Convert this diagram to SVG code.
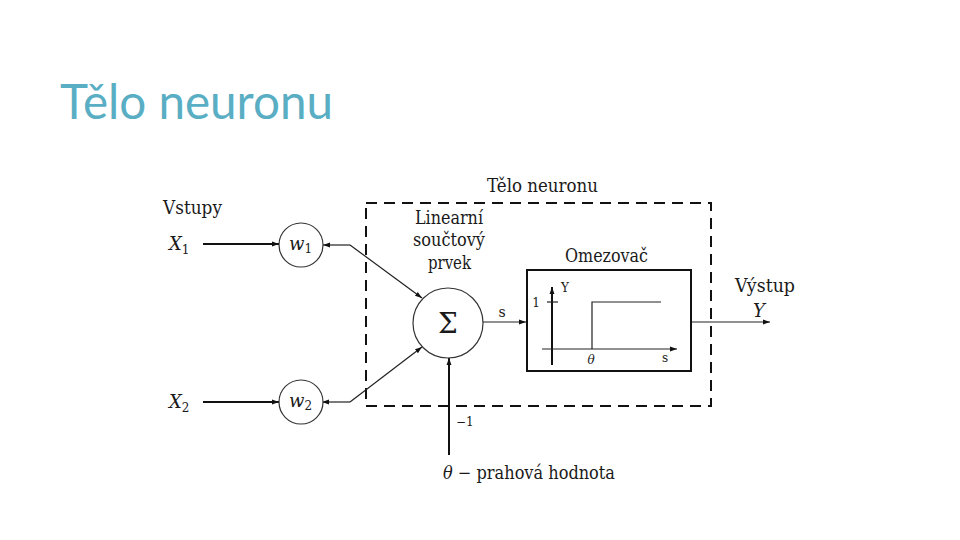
<svg xmlns="http://www.w3.org/2000/svg" width="960" height="540" viewBox="0 0 960 540">
<defs>
<style>
.t{font-family:"DejaVu Serif","Liberation Serif",serif;font-size:18px;fill:#1a1a1a}
.i{font-style:italic}
.s{font-size:12px}
.sig{font-size:28px}
.m{font-size:14px}
.ln{stroke:#222;fill:none;stroke-width:1.2}
.th{stroke:#111;fill:none;stroke-width:2}
.c{stroke:#333;fill:#fff;stroke-width:1.2}
</style>
<marker id="a" viewBox="0 0 10 10" refX="10" refY="5" markerWidth="7" markerHeight="7" orient="auto" markerUnits="userSpaceOnUse">
<path d="M0,1.5 L10,5 L0,8.5 Z" fill="#111"/>
</marker>
</defs>
<rect width="960" height="540" fill="#fff"/>
<text x="60" y="119" font-family="Lato,'Open Sans',sans-serif" font-size="48" fill="#5aaec4" textLength="273" lengthAdjust="spacingAndGlyphs">Tělo neuronu</text>

<g id="body-box">
<rect x="366" y="203" width="345" height="203" fill="none" stroke="#111" stroke-width="2" stroke-dasharray="11,7"/>
<text class="t" x="487" y="192" textLength="111" lengthAdjust="spacingAndGlyphs">Tělo neuronu</text>
</g>

<g id="connectors">
<line class="th" x1="203" y1="244" x2="279" y2="244" marker-end="url(#a)"/>
<line class="th" x1="203" y1="402" x2="279" y2="402" marker-end="url(#a)"/>
<line class="ln" x1="350" y1="245" x2="323" y2="245" marker-end="url(#a)"/>
<line class="ln" x1="350" y1="245" x2="422" y2="298" marker-end="url(#a)"/>
<line class="ln" x1="350" y1="402" x2="322" y2="402" marker-end="url(#a)"/>
<line class="ln" x1="350" y1="402" x2="422" y2="347" marker-end="url(#a)"/>
<line class="ln" x1="483" y1="322" x2="526" y2="322" marker-end="url(#a)"/>
<line class="ln" x1="691" y1="322" x2="770" y2="322" marker-end="url(#a)"/>
<line class="th" x1="449" y1="455" x2="449" y2="358" marker-end="url(#a)"/>
</g>

<g id="inputs">
<text class="t" x="163" y="214" textLength="59" lengthAdjust="spacingAndGlyphs">Vstupy</text>
<text class="t i" x="169" y="250">X<tspan class="s" font-style="normal" dy="4">1</tspan></text>
<text class="t i" x="169" y="408">X<tspan class="s" font-style="normal" dy="4">2</tspan></text>
</g>

<g id="w1">
<circle class="c" cx="301" cy="245" r="22"/>
<text class="t i" x="289" y="250">w<tspan class="s" font-style="normal" dy="3">1</tspan></text>
</g>
<g id="w2">
<circle class="c" cx="301" cy="402" r="22"/>
<text class="t i" x="289" y="407">w<tspan class="s" font-style="normal" dy="3">2</tspan></text>
</g>

<g id="sum">
<circle class="c" cx="448" cy="323" r="35"/>
<text class="t sig" x="448" y="333" text-anchor="middle">Σ</text>
<text class="t" x="415" y="224" textLength="68" lengthAdjust="spacingAndGlyphs">Linearní</text>
<text class="t" x="413" y="246" textLength="72" lengthAdjust="spacingAndGlyphs">součtový</text>
<text class="t" x="428" y="269" textLength="43" lengthAdjust="spacingAndGlyphs">prvek</text>
<text class="t m" x="502" y="317" text-anchor="middle">s</text>
</g>

<g id="limiter">
<rect x="527" y="270" width="164" height="101" fill="#fff" stroke="#111" stroke-width="2"/>
<text class="t" x="565" y="262" textLength="83" lengthAdjust="spacingAndGlyphs">Omezovač</text>
<line class="th" x1="552" y1="365" x2="552" y2="287" marker-end="url(#a)"/>
<line class="ln" x1="542" y1="349" x2="677" y2="349" stroke-width="1.5" marker-end="url(#a)"/>
<line class="ln" x1="547" y1="302" x2="558" y2="302" stroke-width="1.5"/>
<polyline class="ln" points="592,349 592,302 661,302" stroke-width="1.5"/>
<text class="t s" x="561" y="292">Y</text>
<text class="t s" x="540" y="307" text-anchor="end">1</text>
<text class="t s i" x="591" y="364" text-anchor="middle">θ</text>
<text class="t s" x="665" y="362" text-anchor="middle">s</text>
</g>

<g id="output">
<text class="t" x="735" y="292" textLength="60" lengthAdjust="spacingAndGlyphs">Výstup</text>
<text class="t i" x="753" y="317">Y</text>
</g>

<g id="threshold">
<text class="t s" x="456" y="426">−1</text>
<text class="t" x="443" y="479" textLength="172" lengthAdjust="spacingAndGlyphs"><tspan font-style="italic">θ</tspan> − prahová hodnota</text>
</g>
</svg>
